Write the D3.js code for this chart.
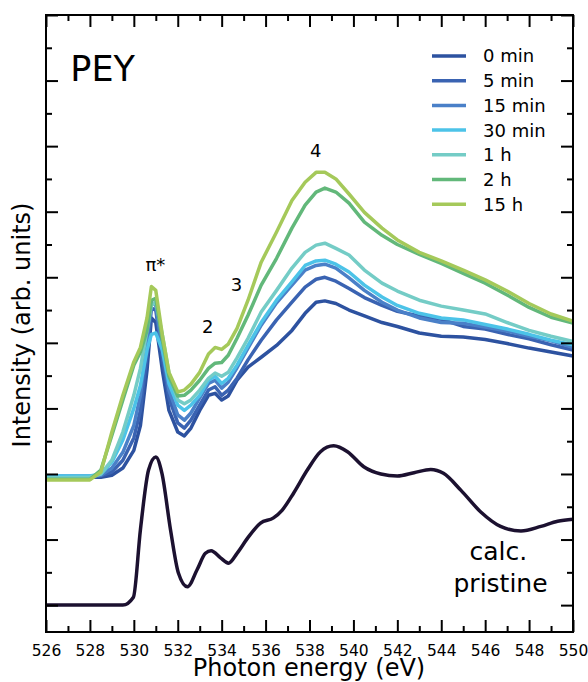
<!DOCTYPE html>
<html>
<head>
<meta charset="utf-8">
<script src="https://cdn.jsdelivr.net/npm/d3@7"></script>
<style>
  body { margin: 0; background: #fff; }
  svg { font-family: "DejaVu Sans", sans-serif; }
</style>
</head>
<body>
<svg id="chart"></svg>
<script>
// energies (eV) for the measured spectra
const energy = [526, 528, 528.5, 529, 529.5, 530, 530.3, 530.6, 530.8, 531.0, 531.3, 531.6,
  532.0, 532.3, 532.6, 533.0, 533.4, 533.7, 534.0, 534.3, 534.7, 535.2, 535.8, 536.5,
  537.2, 537.8, 538.3, 538.7, 539.2, 539.8, 540.5, 541.3, 542, 543, 544, 545, 546, 547,
  548, 549, 550];

const s0min = [1.94, 1.95, 1.95, 1.98, 2.09, 2.36, 2.74, 3.58, 4.38, 4.31, 3.58, 2.97,
  2.64, 2.58, 2.70, 2.97, 3.20, 3.23, 3.13, 3.19, 3.43, 3.63, 3.78, 3.96,
  4.19, 4.45, 4.62, 4.64, 4.60, 4.50, 4.41, 4.31, 4.25, 4.15, 4.10, 4.09, 4.05, 3.99,
  3.92, 3.86, 3.80];
const s5min = [1.95, 1.95, 1.97, 2.03, 2.21, 2.55, 2.97, 3.81, 4.53, 4.50, 3.77, 3.16,
  2.78, 2.70, 2.82, 3.05, 3.28, 3.33, 3.20, 3.28, 3.46, 3.74, 4.04, 4.35,
  4.62, 4.85, 4.97, 5.00, 4.94, 4.83, 4.69, 4.57, 4.48, 4.41, 4.36, 4.25, 4.21, 4.13,
  4.06, 3.97, 3.89];
const s15min = [1.97, 1.97, 1.98, 2.09, 2.33, 2.74, 3.20, 4.04, 4.62, 4.57, 3.89, 3.28,
  2.90, 2.82, 2.93, 3.16, 3.38, 3.43, 3.31, 3.40, 3.62, 3.92, 4.27, 4.61,
  4.88, 5.11, 5.18, 5.20, 5.14, 4.99, 4.80, 4.62, 4.50, 4.38, 4.31, 4.30, 4.24, 4.18,
  4.10, 4.03, 3.93];
const s30min = [1.97, 1.97, 2.00, 2.18, 2.52, 3.00, 3.35, 3.89, 4.13, 4.15, 3.89, 3.38,
  3.05, 2.97, 3.05, 3.20, 3.43, 3.49, 3.38, 3.46, 3.66, 3.96, 4.31, 4.65,
  4.93, 5.18, 5.25, 5.26, 5.20, 5.08, 4.88, 4.70, 4.57, 4.45, 4.38, 4.35, 4.28, 4.21,
  4.13, 4.04, 3.97];
const s1h = [1.94, 1.95, 2.00, 2.21, 2.64, 3.20, 3.61, 4.19, 4.57, 4.62, 4.12, 3.54,
  3.13, 3.07, 3.13, 3.28, 3.46, 3.54, 3.49, 3.55, 3.77, 4.07, 4.47, 4.80,
  5.14, 5.38, 5.49, 5.52, 5.44, 5.34, 5.11, 4.91, 4.79, 4.65, 4.56, 4.50, 4.44, 4.31,
  4.19, 4.10, 4.02];
const s2h = [1.92, 1.92, 2.06, 2.59, 3.13, 3.66, 3.86, 4.19, 4.65, 4.68, 4.04, 3.49,
  3.19, 3.20, 3.28, 3.43, 3.61, 3.69, 3.70, 3.81, 4.07, 4.42, 4.88, 5.29,
  5.75, 6.10, 6.30, 6.36, 6.30, 6.13, 5.84, 5.64, 5.50, 5.35, 5.21, 5.06, 4.91, 4.73,
  4.54, 4.39, 4.30];
const s15h = [1.91, 1.91, 2.03, 2.64, 3.20, 3.71, 3.93, 4.38, 4.86, 4.80, 4.12, 3.55,
  3.25, 3.28, 3.37, 3.55, 3.83, 3.93, 3.90, 3.98, 4.22, 4.65, 5.23, 5.69,
  6.17, 6.45, 6.60, 6.60, 6.50, 6.27, 5.99, 5.75, 5.57, 5.38, 5.25, 5.11, 4.96, 4.79,
  4.60, 4.44, 4.33];

const labels = ["0 min", "5 min", "15 min", "30 min", "1 h", "2 h", "15 h"];
const colors = ["#2d52a0", "#3a63b2", "#4a80c8", "#4cc3e8", "#74ccc6", "#62b87a", "#a5c95a"];
const seriesList = [s0min, s5min, s15min, s30min, s1h, s2h, s15h];

// calculated spectrum of the pristine sample
const calcEnergy = [526, 529.5, 529.98, 530.3, 530.67, 531.0, 531.28, 531.67, 532.03, 532.44,
  532.88, 533.26, 533.52, 533.95, 534.31, 534.7, 535.22, 535.77, 536.36, 536.76, 537.28,
  537.9, 538.5, 539.1, 539.73, 540.47, 541.25, 542.0, 542.76, 543.52, 544.1, 544.9, 545.8,
  546.7, 547.63, 548.54, 549.3, 550];
const calcValue = [0.0, 0.0, 0.12, 1.15, 2.06, 2.26, 2.01, 1.15, 0.49, 0.28,
  0.54, 0.79, 0.83, 0.72, 0.64, 0.79, 1.04, 1.25, 1.33, 1.45, 1.71,
  2.06, 2.34, 2.43, 2.34, 2.11, 2.00, 1.97, 2.02, 2.07, 2.01, 1.75, 1.42,
  1.20, 1.13, 1.20, 1.28, 1.31];

const xMajor = d3.range(526, 551, 2);
const xMinor = d3.range(527, 550, 2);
const yMajor = d3.range(0, 10, 1);
const yMinor = d3.range(0.5, 9, 1);

const annotations = [
  { text: "π*", e: 530.98, v: 5.09 },
  { text: "2", e: 533.36, v: 4.15 },
  { text: "3", e: 534.68, v: 4.79 },
  { text: "4", e: 538.28, v: 6.83 }
];

const totalWidth = 588, totalHeight = 682;
const margin = { top: 15, right: 15, bottom: 50, left: 46 };
const width = totalWidth - margin.left - margin.right;
const height = totalHeight - margin.top - margin.bottom;

const svg = d3.select("#chart").attr("width", totalWidth).attr("height", totalHeight);
const g = svg.append("g").attr("transform", `translate(${margin.left},${margin.top})`);

const x = d3.scaleLinear().domain([526, 550]).range([0, width]);
const y = d3.scaleLinear().domain([-0.41, 9]).range([height, 0]);

const line = d3.line()
  .x(d => x(d[0]))
  .y(d => y(d[1]));

// measured curves, oldest first so 15 h ends on top
seriesList.forEach((s, i) => {
  g.append("path")
    .datum(energy.map((e, j) => [e, s[j]]))
    .attr("d", line)
    .attr("fill", "none")
    .attr("stroke", colors[i])
    .attr("stroke-width", 3.5)
    .attr("stroke-linejoin", "round");
});

g.append("path")
  .datum(calcEnergy.map((e, j) => [e, calcValue[j]]))
  .attr("d", line.curve(d3.curveMonotoneX))
  .attr("fill", "none")
  .attr("stroke", "#1c1130")
  .attr("stroke-width", 3.5);

// ticks on all four sides, pointing inward
function styleAxis(sel) {
  sel.attr("font-family", "DejaVu Sans");
  sel.select(".domain").remove();
  sel.selectAll(".tick line").attr("stroke", "#000").attr("stroke-width", 2);
  sel.selectAll("text").style("font-size", "15.5px").attr("fill", "#000");
}
g.append("g").attr("transform", `translate(0,${height})`)
  .call(d3.axisBottom(x).tickValues(xMajor).tickSizeInner(-12).tickSizeOuter(0).tickPadding(12.5).tickFormat(d3.format("d")))
  .call(styleAxis);
g.append("g").attr("transform", `translate(0,${height})`)
  .call(d3.axisBottom(x).tickValues(xMinor).tickSizeInner(-6).tickSizeOuter(0).tickFormat(""))
  .call(styleAxis);
g.append("g")
  .call(d3.axisTop(x).tickValues(xMajor).tickSizeInner(-12).tickSizeOuter(0).tickFormat(""))
  .call(styleAxis);
g.append("g")
  .call(d3.axisTop(x).tickValues(xMinor).tickSizeInner(-6).tickSizeOuter(0).tickFormat(""))
  .call(styleAxis);
g.append("g")
  .call(d3.axisLeft(y).tickValues(yMajor).tickSizeInner(-12).tickSizeOuter(0).tickFormat(""))
  .call(styleAxis);
g.append("g")
  .call(d3.axisLeft(y).tickValues(yMinor).tickSizeInner(-6).tickSizeOuter(0).tickFormat(""))
  .call(styleAxis);
g.append("g").attr("transform", `translate(${width},0)`)
  .call(d3.axisRight(y).tickValues(yMajor).tickSizeInner(-12).tickSizeOuter(0).tickFormat(""))
  .call(styleAxis);
g.append("g").attr("transform", `translate(${width},0)`)
  .call(d3.axisRight(y).tickValues(yMinor).tickSizeInner(-6).tickSizeOuter(0).tickFormat(""))
  .call(styleAxis);

g.append("rect")
  .attr("width", width).attr("height", height)
  .attr("fill", "none").attr("stroke", "#000").attr("stroke-width", 2);

// peak labels
annotations.forEach(a => {
  g.append("text")
    .attr("x", x(a.e)).attr("y", y(a.v))
    .attr("text-anchor", "middle")
    .style("font-size", "18px")
    .text(a.text);
});

g.append("text")
  .attr("x", x(527.11)).attr("y", y(8.0))
  .style("font-size", "35px")
  .text("PEY");

g.append("text")
  .attr("x", x(546.6)).attr("y", y(0.69))
  .attr("text-anchor", "middle")
  .style("font-size", "25px")
  .text("calc.");
g.append("text")
  .attr("x", x(546.7)).attr("y", y(0.20))
  .attr("text-anchor", "middle")
  .style("font-size", "25px")
  .text("pristine");

// legend
const legend = g.append("g").attr("transform", "translate(386,41)");
labels.forEach((lab, i) => {
  const row = legend.append("g").attr("transform", `translate(0,${i * 24.7})`);
  row.append("line")
    .attr("x1", 0).attr("x2", 34)
    .attr("stroke", colors[i]).attr("stroke-width", 3.5);
  row.append("text")
    .attr("x", 51).attr("dy", "0.36em")
    .style("font-size", "18px")
    .text(lab);
});

// axis titles
svg.append("text")
  .attr("x", 309).attr("y", 676)
  .attr("text-anchor", "middle")
  .style("font-size", "24px")
  .text("Photon energy (eV)");

svg.append("text")
  .attr("transform", "rotate(-90)")
  .attr("x", -325).attr("y", 30)
  .attr("text-anchor", "middle")
  .style("font-size", "24px")
  .text("Intensity (arb. units)");
</script>
</body>
</html>
